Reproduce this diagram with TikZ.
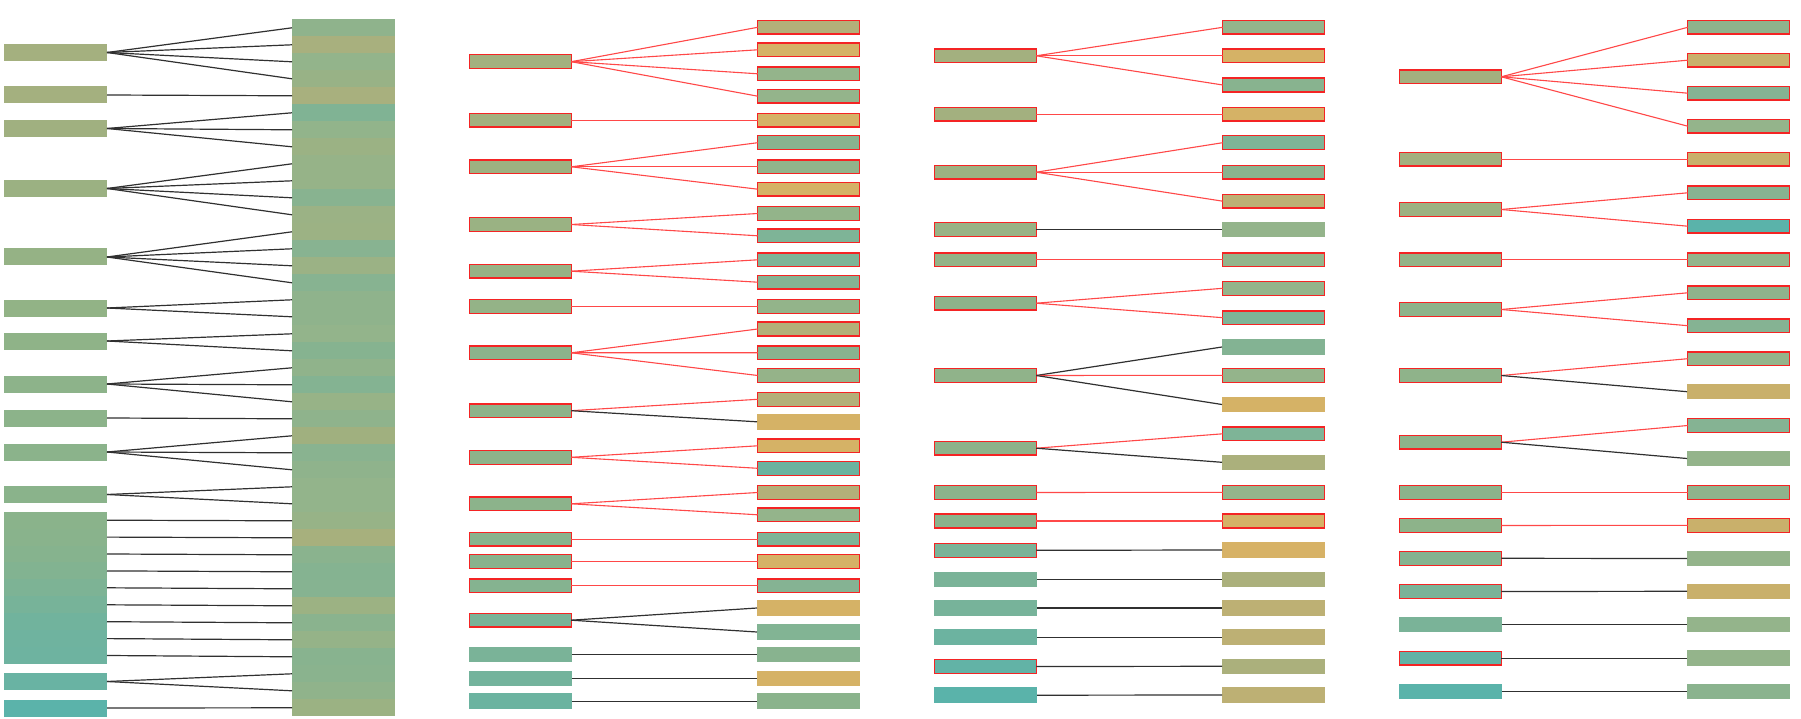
\documentclass[tikz,border=0pt]{standalone}
\usepackage{xcolor}
\definecolor{redb}{HTML}{F42424}
\definecolor{redl}{HTML}{FF4848}
\definecolor{blk}{HTML}{303030}
\tikzset{
  box/.style={rectangle, inner sep=0pt, outer sep=0pt, minimum width=103pt, minimum height=15.5pt},
  b1/.style={draw=redb, line width=1.4pt, minimum width=101.5pt, minimum height=13.8pt},
  b0/.style={},
  lr/.style={draw=redl, line width=1.1pt},
  lk/.style={draw=blk, line width=1.2pt},
}
\begin{document}
\begin{tikzpicture}[x=1pt,y=-1pt]
\fill[white] (0,0) rectangle (1801,719);
\useasboundingbox (0,0) rectangle (1801,719);
% ---------------- panel 1 ----------------
\foreach \i/\y/\c in {1/52.5/A4B07F,2/95/A4B07F,3/128.5/A0B080,4/188.5/9BB182,5/257/95B285,6/308/92B386,7/341/8FB388,8/384/8DB38A,9/418/8CB38A,10/452/8BB38B,11/494.5/8AB38B,12/520.2/8AB38B,13/537.1/89B38C,14/554/86B38E,15/570.9/82B391,16/587.8/7DB395,17/604.8/77B399,18/621.7/71B39D,19/638.6/6FB39F,20/655.5/6EB3A0,21/681.5/69B3A3,22/708/5BB3AA}{
  \definecolor{tmpc}{HTML}{\c}
  \node[box, minimum height=17pt, fill=tmpc] (p1L\i) at (55.5,\y) {};
}
\foreach \k/\c in {1/8FB38C,2/A8B07E,3/93B48B,4/98B286,5/A8B07E,6/80B394,7/92B48B,8/9BB284,9/96B388,10/96B388,11/88B390,12/9BB285,13/9CB284,14/88B391,15/9BB285,16/87B391,17/8FB38C,18/8FB38C,19/93B48B,20/86B390,21/90B38B,22/84B392,23/97B387,24/8FB38C,25/A0B07F,26/89B390,27/8FB38C,28/93B48B,29/93B48B,30/97B387,31/A7B07D,32/8AB38E,33/85B391,34/86B391,35/9CB283,36/8AB38E,37/95B388,38/88B38F,39/8AB38E,40/90B38B,41/9BB283}{
  \definecolor{tmpc}{HTML}{\c}
  \node[box, minimum height=17.05pt, fill=tmpc] (p1R\k) at (343.5,{10.8+17*\k}) {};
}
\foreach \a/\b in {1/1,1/2,1/3,1/4,2/5,3/6,3/7,3/8,4/9,4/10,4/11,4/12,5/13,5/14,5/15,5/16,6/17,6/18,7/19,7/20,8/21,8/22,8/23,9/24,10/25,10/26,10/27,11/28,11/29,12/30,13/31,14/32,15/33,16/34,17/35,18/36,19/37,20/38,21/39,21/40,22/41}{
  \draw[lk] (p1L\a.east) -- (p1R\b.west);
}
% ---------------- panel 2 ----------------
\foreach \i/\y/\c/\b in {1/61.7/A3B07F/1,2/120.2/A3B07F/1,3/166.8/9DB181/1,4/224.5/9AB283/1,5/271.2/97B285/1,6/306.5/94B387/1,7/352.8/8CB38B/1,8/410.7/8DB38A/1,9/457.3/8EB38A/1,10/503.8/8CB38B/1,11/539.2/88B38D/1,12/561.5/88B38D/1,13/585.7/85B390/1,14/620.2/7AB398/1,15/654.5/7AB398/0,16/678.7/73B39C/0,17/701.2/6BB3A0/0}{
  \definecolor{tmpc}{HTML}{\c}
  \node[box, b\b, fill=tmpc] (p2L\i) at (520.5,\y) {};
}
\foreach \i/\y/\c/\b in {1/27.3/B3B079/1,2/49.8/D5B266/1,3/73.8/94B48B/1,4/96.2/94B48B/1,5/120.2/D5B266/1,6/142.7/88B38F/1,7/166.8/91B48B/1,8/189.2/D5B266/1,9/213.5/93B48A/1,10/235.8/7EB497/1,11/259.8/7EB497/1,12/282.2/85B393/1,13/306.5/93B48A/1,14/329/B3B079/1,15/352.7/88B38F/1,16/375.5/95B389/1,17/399.3/B3B079/1,18/421.8/D5B266/0,19/445.8/D5B266/1,20/468.3/6BB39F/1,21/492.5/B3B079/1,22/514.8/94B48B/1,23/539.2/7EB497/1,24/561.5/D5B266/1,25/585.7/85B393/1,26/608/D5B266/0,27/632/82B494/0,28/654.5/88B38F/0,29/678.7/D5B266/0,30/701.2/8AB38C/0}{
  \definecolor{tmpc}{HTML}{\c}
  \node[box, b\b, fill=tmpc] (p2R\i) at (808.5,\y) {};
}
\foreach \a/\b/\s in {1/1/r,1/2/r,1/3/r,1/4/r,2/5/r,3/6/r,3/7/r,3/8/r,4/9/r,4/10/r,5/11/r,5/12/r,6/13/r,7/14/r,7/15/r,7/16/r,8/17/r,8/18/k,9/19/r,9/20/r,10/21/r,10/22/r,11/23/r,12/24/r,13/25/r,14/26/k,14/27/k,15/28/k,16/29/k,17/30/k}{
  \draw[l\s] (p2L\a.east) -- (p2R\b.west);
}
% ---------------- panel 3 ----------------
\foreach \i/\y/\c/\b in {1/55.8/A3B07F/1,2/114.3/A3B07F/1,3/172.2/9DB181/1,4/229.7/98B285/1,5/259.8/94B387/1,6/303.2/8DB38A/1,7/375.5/90B38A/1,8/448.2/8DB38A/1,9/492.5/8CB38B/1,10/521/8AB38C/1,11/550.3/7AB398/1,12/579.5/7AB398/0,13/608/77B39A/0,14/637.2/6CB3A0/0,15/666.5/62B3A6/1,16/695.2/5AB3AA/0}{
  \definecolor{tmpc}{HTML}{\c}
  \node[box, b\b, fill=tmpc] (p3L\i) at (985.5,\y) {};
}
\foreach \i/\y/\c/\b in {1/27.3/94B48B/1,2/55.8/D5B266/1,3/85/88B38F/1,4/114.3/D5B266/1,5/142.7/7EB497/1,6/172.2/8AB38E/1,7/201.2/BDB074/1,8/229.7/94B48B/0,9/259.8/94B48B/1,10/288.3/94B48B/1,11/317.7/7EB497/1,12/347/83B393/0,13/375.3/94B48B/1,14/404.5/D5B266/0,15/433.8/7EB497/1,16/462.3/ABB07C/0,17/492.3/94B48B/1,18/521/D5B266/1,19/550/D7B266/0,20/579.5/ABB07C/0,21/608/BDB074/0,22/637.2/BDB074/0,23/666.3/ABB07C/0,24/695/BDB074/0}{
  \definecolor{tmpc}{HTML}{\c}
  \node[box, b\b, fill=tmpc] (p3R\i) at (1273.5,\y) {};
}
\foreach \a/\b/\s in {1/1/r,1/2/r,1/3/r,2/4/r,3/5/r,3/6/r,3/7/r,4/8/k,5/9/r,6/10/r,6/11/r,7/12/k,7/13/r,7/14/k,8/15/r,8/16/k,9/17/r,10/18/r,11/19/k,12/20/k,13/21/k,14/22/k,15/23/k,16/24/k}{
  \draw[l\s] (p3L\a.east) -- (p3R\b.west);
}
% ---------------- panel 4 ----------------
\foreach \i/\y/\c/\b in {1/76.8/A3B07F/1,2/159.2/A3B07F/1,3/209.5/9CB181/1,4/259.8/94B387/1,5/309.5/8DB38A/1,6/375.5/8FB38A/1,7/442.2/8DB38A/1,8/492.3/8CB38B/1,9/525.5/8DB38A/1,10/558.3/85B390/1,11/591.5/7AB398/1,12/624.5/7AB398/0,13/658.2/62B3A6/1,14/691.3/5AB3AA/0}{
  \definecolor{tmpc}{HTML}{\c}
  \node[box, b\b, fill=tmpc] (p4L\i) at (1450.5,\y) {};
}
\foreach \i/\y/\c/\b in {1/27.3/8FB38C/1,2/60.2/C9B06B/1,3/93.2/85B393/1,4/126.2/94B48B/1,5/159.2/C9B06B/1,6/192.8/87B391/1,7/226.2/5AB3AA/1,8/259.8/94B48B/1,9/292.8/8FB38C/1,10/325.7/85B393/1,11/358.7/94B48B/1,12/391.7/C9B06B/0,13/425.5/85B393/1,14/458.5/94B48B/0,15/492.3/8FB38C/1,16/525.3/C9B06B/1,17/558.5/94B48B/0,18/591.3/C9B06B/0,19/624.5/94B48B/0,20/658.2/94B48B/0,21/691.3/8AB38E/0}{
  \definecolor{tmpc}{HTML}{\c}
  \node[box, b\b, fill=tmpc] (p4R\i) at (1738.5,\y) {};
}
\foreach \a/\b/\s in {1/1/r,1/2/r,1/3/r,1/4/r,2/5/r,3/6/r,3/7/r,4/8/r,5/9/r,5/10/r,6/11/r,6/12/k,7/13/r,7/14/k,8/15/r,9/16/r,10/17/k,11/18/k,12/19/k,13/20/k,14/21/k}{
  \draw[l\s] (p4L\a.east) -- (p4R\b.west);
}
\end{tikzpicture}
\end{document}
